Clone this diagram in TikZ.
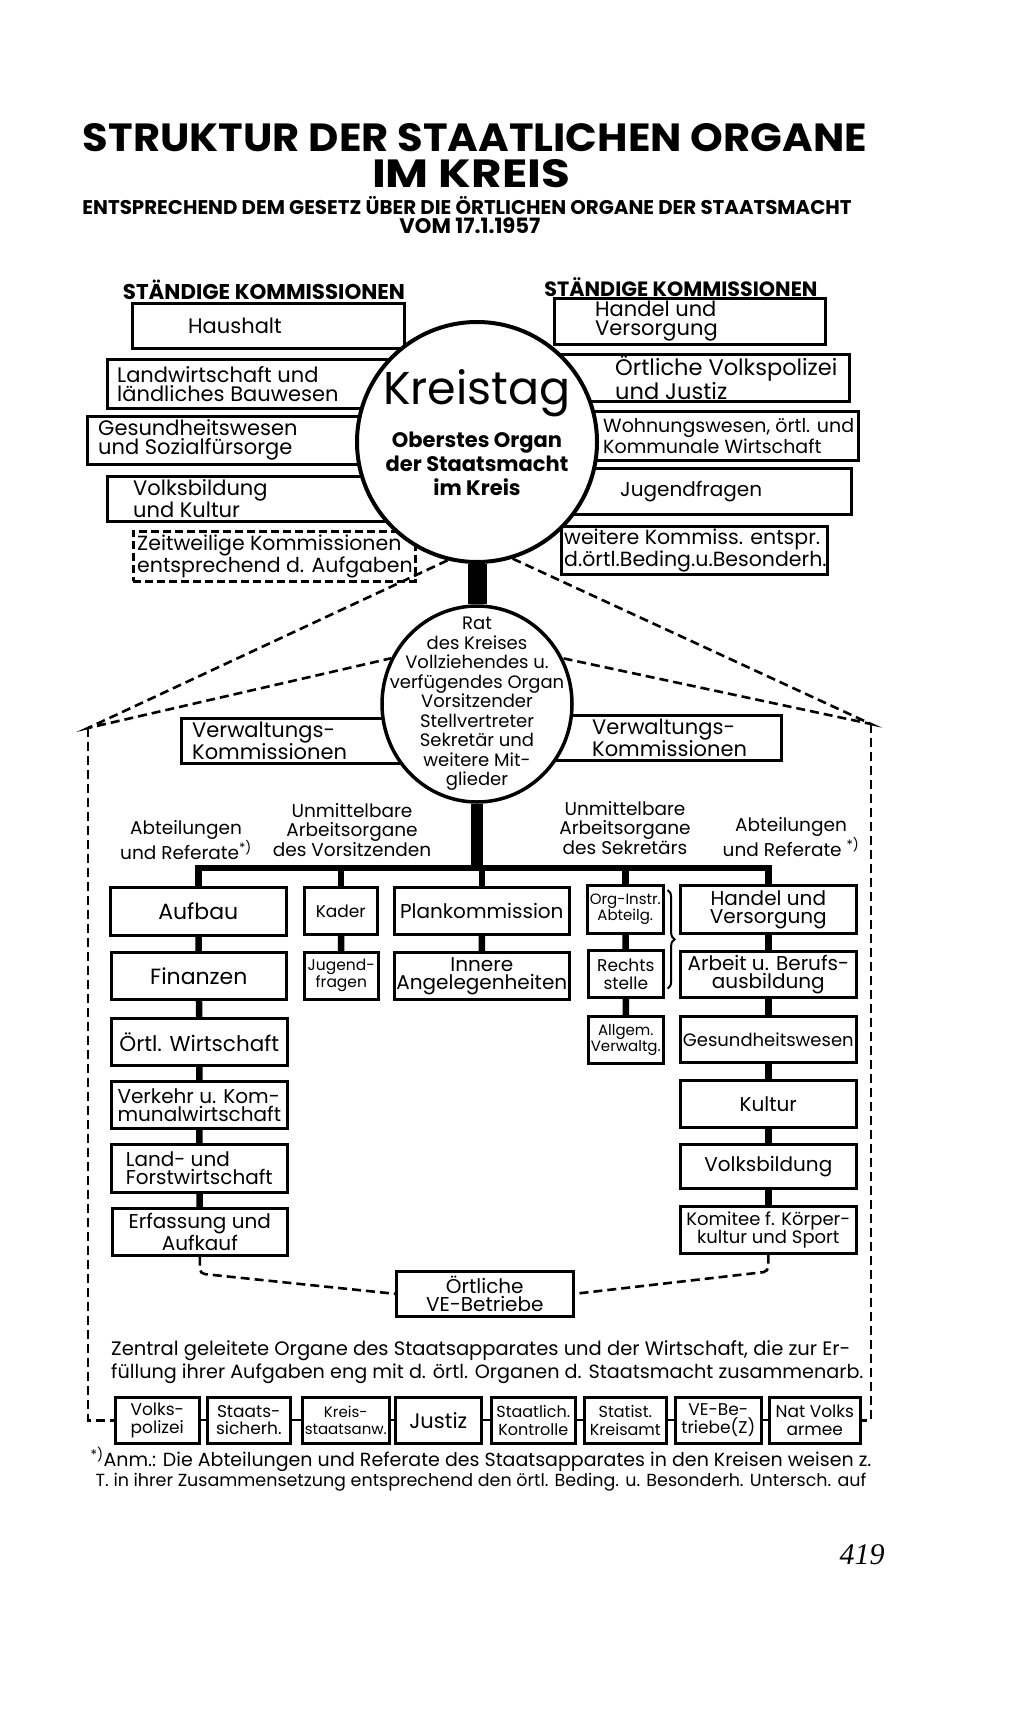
\documentclass[tikz,border=0pt]{standalone}
\usepackage{fontspec}
\setmainfont{Poppins}
\newfontfamily\pagefont{Liberation Serif}
\usetikzlibrary{positioning,calc,shapes.geometric,decorations.pathreplacing}
\newcommand{\fs}[2]{\fontsize{#1}{#2}\selectfont}

\begin{document}
\begin{tikzpicture}[x=1pt,y=-1pt,
    kbox/.style={draw,line width=2.6pt,fill=white,inner sep=0pt,anchor=north west},
    obox/.style={kbox,align=center,font=\fs{20}{18}},
    sbox/.style={kbox,align=center,minimum height=46pt,font=\fs{17}{17.5}},
    ltxt/.style={anchor=west,align=left,inner sep=0pt,font=\fs{21}{19}},
    head/.style={inner sep=0pt,font=\bfseries},
    lab/.style={inner sep=0pt,align=center,font=\fs{18.5}{19.5}},
    dline/.style={line width=2.6pt,dash pattern=on 9pt off 5pt},
    bar/.style={line width=6.5pt},
    link/.style={line width=2pt}]
\useasboundingbox (0,0) rectangle (1024,1736);

% title
\node[head] (t1) at (475,138) {\resizebox{784pt}{28pt}{STRUKTUR DER STAATLICHEN ORGANE}};
\node[head] (t2) at (471,174) {\resizebox{198pt}{28pt}{IM KREIS}};
\node[head] (t3) at (467,206) {\resizebox{769pt}{!}{ENTSPRECHEND DEM GESETZ ÜBER DIE ÖRTLICHEN ORGANE DER STAATSMACHT}};
\node[head] (t4) at (470,226) {\resizebox{141pt}{!}{VOM 17.1.1957}};
\node[head] (kl) at (264,290) {\resizebox{282pt}{!}{STÄNDIGE KOMMISSIONEN}};
\node[head] (kr) at (681,287) {\resizebox{273pt}{!}{STÄNDIGE KOMMISSIONEN}};

% standing commissions, left
\node[kbox,minimum width=272pt,minimum height=45pt,label={[ltxt,xshift=57pt]west:Haushalt}] (haus) at (131,302) {};
\node[kbox,minimum width=370pt,minimum height=49pt,label={[ltxt,xshift=11pt]west:{Landwirtschaft und\\ländliches Bauwesen}}] (lw) at (106,358) {};
\node[kbox,minimum width=390pt,minimum height=48pt,label={[ltxt,xshift=12pt]west:{Gesundheitswesen\\und Sozialfürsorge}}] (gs) at (86,415) {};
\node[kbox,minimum width=370pt,minimum height=45pt,label={[ltxt,xshift=27pt]west:{Volksbildung\\und Kultur}}] (vb) at (106,475) {};
\node[kbox,dash pattern=on 8pt off 4pt,minimum width=282pt,minimum height=50pt,label={[ltxt,xshift=5pt,font=\fs{20.5}{19}]west:{Zeitweilige Kommissionen\\entsprechend d. Aufgaben}}] (zw) at (132,530) {};

% standing commissions, right
\node[kbox,minimum width=271pt,minimum height=46pt,label={[ltxt,xshift=42pt]west:{Handel und\\Versorgung}}] (hvk) at (553,297) {};
\node[kbox,minimum width=378pt,minimum height=47pt,label={[ltxt,xshift=145pt,font=\fs{22.5}{19}]west:{Örtliche Volkspolizei\\und Justiz}}] (vpk) at (470,353) {};
\node[kbox,minimum width=387pt,minimum height=49pt,label={[ltxt,xshift=133pt,font=\fs{19}{19}]west:{Wohnungswesen, örtl. und\\Kommunale Wirtschaft}}] (wwk) at (470,410) {};
\node[kbox,minimum width=380pt,minimum height=46pt,label={[ltxt,xshift=150pt,font=\fs{20}{19}]west:Jugendfragen}] (jfk) at (470,467) {};
\node[kbox,minimum width=266pt,minimum height=48pt,label={[ltxt,xshift=4pt,font=\fs{20.5}{19}]west:{weitere Kommiss. entspr.\\d.örtl.Beding.u.Besonderh.}}] (wkk) at (560,525) {};

\node[circle,draw,line width=4pt,fill=white,minimum size=240pt,inner sep=0pt] (kt) at (477,442) {};
\node[font=\fs{46}{46}] (ktname) at ([yshift=49pt]kt.center) {Kreistag};
\node[align=center,inner sep=0pt,font=\bfseries\fs{21}{24}] (ktsub) at ([yshift=-22pt]kt.center) {Oberstes Organ\\der Staatsmacht\\im Kreis};

% council
\node[kbox,minimum width=300pt,minimum height=45pt,label={[ltxt,xshift=12pt]west:{Verwaltungs-\\Kommissionen}}] (vwl) at (180,717) {};
\node[kbox,minimum width=306pt,minimum height=45pt,label={[ltxt,xshift=118pt]west:{Verwaltungs-\\Kommissionen}}] (vwr) at (474,714) {};
\node[ellipse,draw,line width=3.5pt,fill=white,minimum width=190pt,minimum height=196pt,inner sep=0pt] (rat) at (477,704) {};
\node[align=center,inner sep=0pt,font=\fs{18}{19.5}] (rattxt) at (rat.center) {Rat\\des Kreises\\Vollziehendes u.\\verfügendes Organ\\Vorsitzender\\Stellvertreter\\Sekretär und\\weitere Mit-\\glieder};
\draw[line width=19pt] (kt.south) -- (rat.north);

\coordinate (fl) at (88,728);
\coordinate (fr) at (871,724);
\draw[dline] (kt.256) -- (fl) -- (rat.152);
\draw[dline] (kt.287) -- (fr) -- (rat.28);

\node[lab] (abtl) at (186,840) {Abteilungen\\und Referate\textsuperscript{*)}};
\node[lab] (uvors) at (352,830) {Unmittelbare\\Arbeitsorgane\\des Vorsitzenden};
\node[lab] (usekr) at (625,828) {Unmittelbare\\Arbeitsorgane\\des Sekretärs};
\node[lab] (abtr) at (791,837) {Abteilungen\\und Referate \textsuperscript{*)}};

% departments
\node[obox,minimum width=176pt,minimum height=48pt,font=\fs{22}{20}] (aufbau) at (109,886) {Aufbau};
\node[obox,minimum width=175pt,minimum height=47pt,font=\fs{22}{20}] (fin) at (110,951) {Finanzen};
\node[obox,minimum width=176pt,minimum height=47pt,font=\fs{21.5}{18}] (ow) at (110,1017) {Örtl. Wirtschaft};
\node[obox,minimum width=176pt,minimum height=47pt,align=left] (vk) at (110,1080) {Verkehr u. Kom-\\munalwirtschaft};
\node[obox,minimum width=176pt,minimum height=48pt,align=left] (lf) at (110,1143) {Land- und\\Forstwirtschaft};
\node[obox,minimum width=175pt,minimum height=47pt] (ef) at (111,1207) {Erfassung und\\Aufkauf};
\node[obox,minimum width=73pt,minimum height=47pt,font=\fs{17}{17}] (kader) at (303,886) {Kader};
\node[obox,minimum width=74pt,minimum height=47pt,font=\fs{15.5}{17}] (jug) at (303,951) {Jugend-\\fragen};
\node[obox,minimum width=175pt,minimum height=47pt] (plan) at (393,886) {Plankommission};
\node[obox,minimum width=175pt,minimum height=47pt] (inn) at (393,951) {Innere\\Angelegenheiten};
\node[obox,minimum width=76pt,minimum height=48pt,font=\fs{15}{16}] (org) at (586,884) {Org-Instr.\\Abteilg.};
\node[obox,minimum width=75pt,minimum height=47pt,font=\fs{17}{18}] (rs) at (587,949) {Rechts\\stelle};
\node[obox,minimum width=75pt,minimum height=47pt,font=\fs{15}{16}] (ag) at (587,1015) {Allgem.\\Verwaltg.};
\node[obox,minimum width=176pt,minimum height=48pt] (hv) at (679,884) {Handel und\\Versorgung};
\node[obox,minimum width=176pt,minimum height=46pt] (ab) at (679,950) {Arbeit u. Berufs-\\ausbildung};
\node[obox,minimum width=176pt,minimum height=46pt,font=\fs{18}{18}] (gw) at (679,1015) {Gesundheitswesen};
\node[obox,minimum width=176pt,minimum height=47pt] (ku) at (679,1079) {Kultur};
\node[obox,minimum width=176pt,minimum height=44pt] (vo) at (679,1143) {Volksbildung};
\node[obox,minimum width=176pt,minimum height=47pt,font=\fs{18}{18}] (kom) at (679,1205) {Komitee f. Körper-\\kultur und Sport};
\node[obox,minimum width=177pt,minimum height=45pt] (ve) at (395,1270) {Örtliche\\VE-Betriebe};

\coordinate (hb) at (477,868);
\draw[line width=12pt] (rat.south) -- (hb);
\draw[bar] (aufbau.north) |- (hb) -| (hv.north);
\draw[bar] (kader.north) -- (kader.north |- hb);
\draw[bar] (plan.north) -- (plan.north |- hb);
\draw[bar] (org.north) -- (org.north |- hb);
\draw[bar] (aufbau) -- (fin) (fin) -- (ow) (ow) -- (vk) (vk) -- (lf) (lf) -- (ef);
\draw[bar] (kader) -- (jug) (plan) -- (inn) (org) -- (rs) (rs) -- (ag);
\draw[bar] (hv) -- (ab) (ab) -- (gw) (gw) -- (ku) (ku) -- (vo) (vo) -- (kom);
\draw[link,decorate,decoration={brace,amplitude=7pt}] ([shift={(3,6)}]org.north east) -- ([shift={(3,-10)}]rs.south east);
\draw[dline,rounded corners=5pt] (ef.south) -- ++(0,17) -- (ve.west);
\draw[dline,rounded corners=5pt] (kom.south) -- ++(0,17) -- (ve.east);

\node[anchor=west,align=left,inner sep=0pt,font=\fs{19.5}{22.5}] (zentral) at (111,1362) {Zentral geleitete Organe des Staatsapparates und der Wirtschaft, die zur Er-\\{\fs{19.2}{22.5}füllung ihrer Aufgaben eng mit d. örtl. Organen d. Staatsmacht zusammenarb.}};

% centrally led organs
\node[sbox,minimum width=84pt] (b1) at (114,1396) {Volks-\\polizei};
\node[sbox,minimum width=83pt] (b2) at (206,1396) {Staats-\\sicherh.};
\node[sbox,minimum width=87pt,font=\fs{15}{17.5}] (b3) at (301,1396) {Kreis-\\staatsanw.};
\node[sbox,minimum width=86pt,font=\fs{21}{20}] (b4) at (394,1396) {Justiz};
\node[sbox,minimum width=84pt,font=\fs{16}{17.5}] (b5) at (490,1396) {Staatlich.\\Kontrolle};
\node[sbox,minimum width=82pt,font=\fs{16}{17.5}] (b6) at (583,1396) {Statist.\\Kreisamt};
\node[sbox,minimum width=86pt] (b7) at (674,1396) {VE-Be-\\triebe(Z)};
\node[sbox,minimum width=91pt] (b8) at (768,1396) {Nat Volks\\armee};
\draw[link] (b1) -- (b2) (b2) -- (b3) (b3) -- (b4) (b4) -- (b5) (b5) -- (b6) (b6) -- (b7) (b7) -- (b8);
\draw[dline] (fl) |- (b1.west);
\draw[dline] (fr) |- (b8.east);

\node[align=center,inner sep=0pt,font=\fs{19}{20}] (anm) at (481,1469) {\textsuperscript{*)}Anm.: Die Abteilungen und Referate des Staatsapparates in den Kreisen weisen z.\\{\fs{17.5}{20}T. in ihrer Zusammensetzung entsprechend den örtl. Beding. u. Besonderh. Untersch. auf}};
\node[font=\pagefont\itshape\fs{30}{30}] (page) at (862,1555) {419};
\end{tikzpicture}
\end{document}
